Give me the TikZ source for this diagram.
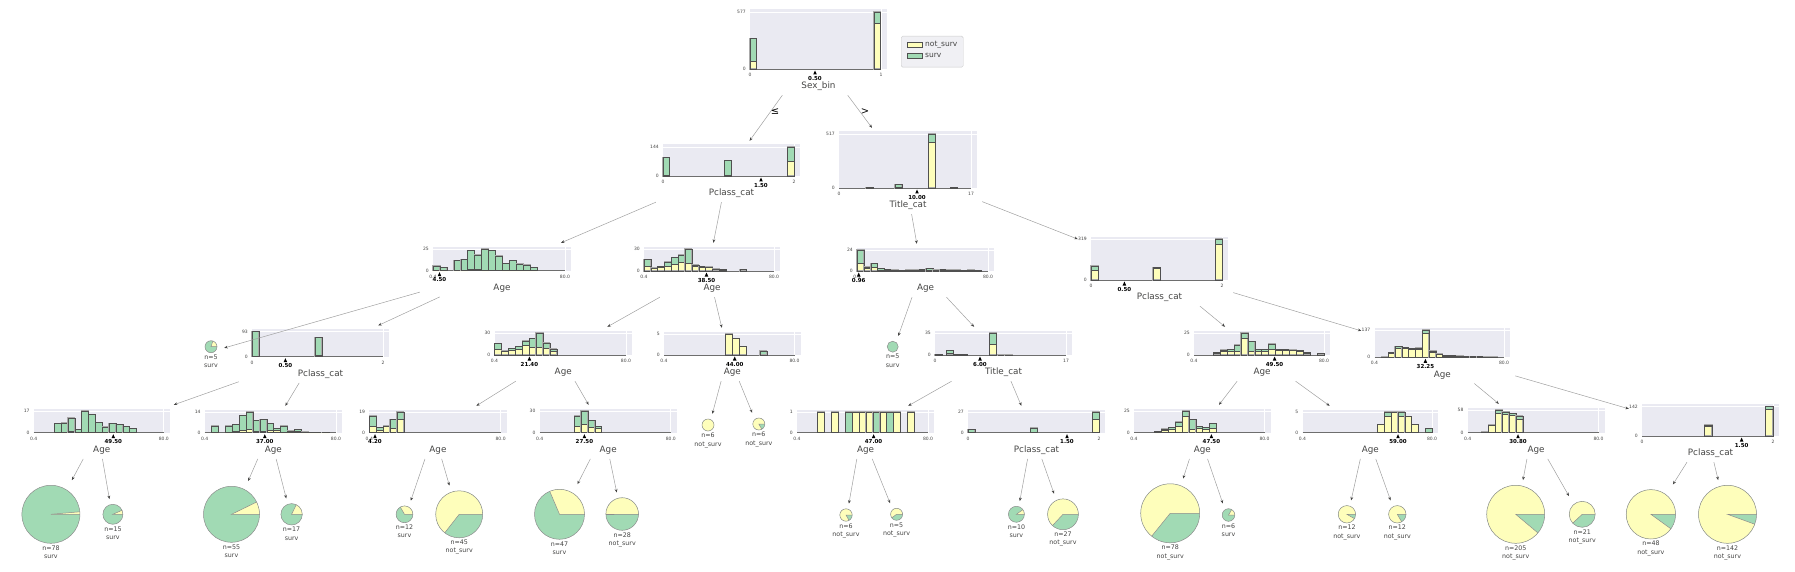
\documentclass[tikz,border=0pt]{standalone}
\usepackage{fontspec}
\setmainfont{DejaVu Sans}
\usetikzlibrary{fit,arrows.meta}
\definecolor{yel}{HTML}{FEFEBB}
\definecolor{grn}{HTML}{A1DAB4}
\definecolor{panelbg}{HTML}{EAEAF2}
\definecolor{txt}{HTML}{444443}
\definecolor{edgec}{HTML}{A0A0A0}
\definecolor{halo}{RGB}{170,170,170}
\definecolor{barc}{RGB}{80,80,80}
\definecolor{piec}{RGB}{140,140,140}
\definecolor{axc}{RGB}{110,110,110}
\definecolor{legbg}{HTML}{F0F0F4}
\definecolor{legbd}{HTML}{CCCCCC}
\tikzset{
  tick/.style={font=\fontsize{4.5}{5}\selectfont, text=txt, inner sep=0pt},
  splitlab/.style={font=\fontsize{5.5}{6}\selectfont\bfseries, text=black, inner sep=0pt},
  feat/.style={font=\fontsize{8.8}{10}\selectfont, text=txt, inner sep=0pt},
  leaflab/.style={font=\fontsize{6.3}{8.4}\selectfont, text=txt, inner sep=0pt, align=center},
  bbox/.style={inner sep=0pt, draw=none},
  edge/.style={draw=edgec, line width=0.5pt, -{Stealth[length=3.5pt,width=2.8pt,color=txt]}},
  barhalo/.style={draw=halo, line width=1.2pt},
  barln/.style={draw=barc, line width=0.45pt},
  pieln/.style={draw=piec, line width=0.5pt},
  axisln/.style={draw=axc, line width=0.6pt},
  elab/.style={font=\fontsize{10}{12}\selectfont, text=black, inner sep=0pt},
  legtext/.style={font=\fontsize{7.5}{9}\selectfont, text=txt, inner sep=0pt, anchor=west},
}
% #1 xl #2 xr #3 ytop #4 ybot #5 ymax #6 xmin #7 xmax #8 splitx #9 splitlabel
\newcommand\hpanel[9]{%
  \fill[panelbg] (#1,#3-2.5) rectangle (#2+6,#4);
  \draw[white,line width=0.7pt] (#1,#3) -- (#2+6,#3);
  \draw[white,line width=0.7pt] (#2,#3-2.5) -- (#2,#4);
  \draw[axisln] (#1,#4) -- (#2,#4);
  \node[tick,anchor=east] at (#1-4,#3) {#5};
  \node[tick,anchor=east] at (#1-4,#4) {0};
  \node[tick,anchor=north] at (#1,#4+4) {#6};
  \node[tick,anchor=north] at (#2,#4+4) {#7};
  \fill[black] (#8,#4+1.5) -- (#8-1.8,#4+5.5) -- (#8+1.8,#4+5.5) -- cycle;
  \node[splitlab,anchor=north] at (#8,#4+7) {#9};
}
% #1 xstart #2 binw #3 ybot #4 height #5 list k/yellowfrac/totalfrac
\newcommand\hbars[5]{%
  \foreach \k/\yf/\tf in {#5}{%
    \pgfmathsetmacro\xa{#1+\k*#2}%
    \pgfmathsetmacro\xb{#1+\k*#2+#2}%
    \pgfmathsetmacro\yt{#3-\tf*#4}%
    \pgfmathsetmacro\yy{#3-\yf*#4}%
    \fill[grn] (\xa,#3) rectangle (\xb,\yt);
    \fill[yel] (\xa,#3) rectangle (\xb,\yy);
    \draw[barhalo] (\xa,#3) rectangle (\xb,\yt);
    \draw[barln] (\xa,#3) rectangle (\xb,\yt);
    \draw[barln] (\xa,\yy) -- (\xb,\yy);
  }%
}
% #1 name #2 xl #3 xr #4 ytop #5 ybot #6 text
\newcommand\featlab[6]{%
  \node[feat] (#1-l) at ({(#2+#3+6)/2},#5+17.5) {#6};
  \node[bbox,fit={(#2-13,#4-6) (#3+11,#5+26)}] (#1) {};
}
% #1 name #2 cx #3 cy #4 r #5 yellow degrees #6 line1 #7 line2
\newcommand\leafpie[7]{%
  \fill[grn] (#2,#3) circle[radius=#4pt];
  \ifdim #5pt>0pt
    \fill[yel] (#2,#3) -- ++(0:#4pt) arc[start angle=0,end angle=#5,radius=#4pt] -- cycle;
  \fi
  \draw[pieln] (#2,#3) circle[radius=#4pt];
  \ifdim #5pt>0pt \ifdim #5pt<360pt
    \draw[pieln] (#2,#3) ++(0:#4pt) -- (#2,#3) -- ++(#5:#4pt);
  \fi\fi
  \node[leaflab,anchor=north] (#1-t) at (#2,#3+#4+2) {#6\\#7};
  \node[bbox,fit={({#2-max(#4,8)-5},{#3-#4-5}) ({#2+max(#4,8)+5},{#3+#4+15})}] (#1) {};
}
\begin{document}
\begin{tikzpicture}[x=1pt,y=-1pt]
\useasboundingbox (0,0) rectangle (1795,572);

% ---------- root ----------
\hpanel{750}{881}{12}{69}{577}{0}{1}{815}{0.50}
\hbars{750}{6.7}{69}{57}{0/0.14/0.54, 18.5/0.81/1}
\featlab{root}{750}{881}{12}{69}{Sex\_bin}
% legend
\node[draw=legbd, fill=legbg, rounded corners=1.5pt, minimum width=62pt, minimum height=31pt, inner sep=0pt, anchor=north west] (legend) at (901,36) {};
\filldraw[fill=yel, draw=barc, line width=0.4pt] (907,42) rectangle (922,47);
\filldraw[fill=grn, draw=barc, line width=0.4pt] (907,53) rectangle (922,58);
\node[legtext] (leg1) at (925,44.5) {not\_surv};
\node[legtext] (leg2) at (925,55.5) {surv};

% ---------- level 2 ----------
\hpanel{663}{794}{147}{176}{144}{0}{2}{761}{1.50}
\hbars{663}{6.7}{176}{29}{0/0.02/0.65, 9.2/0.04/0.53, 18.6/0.5/1}
\featlab{l2l}{663}{794}{147}{176}{Pclass\_cat}

\hpanel{839}{971}{134}{188}{517}{0}{17}{917}{10.00}
\hbars{839}{6.9}{188}{54}{3.9/0/0.01, 8.1/0.01/0.07, 13/0.84/1, 16.1/0.005/0.015}
\featlab{l2r}{839}{971}{134}{188}{Title\_cat}

% ---------- level 3 ----------
\hpanel{433}{565}{249}{270.7}{25}{0.4}{80.0}{439.5}{4.50}
\hbars{433}{6.94}{270.7}{21.7}{0/0/0.22, 1/0/0.16, 3/0/0.47, 4/0/0.53, 5/0.06/0.94, 6/0.06/0.73, 7/0/1, 8/0.03/0.94, 9/0.03/0.69, 10/0/0.34, 11/0/0.47, 12/0/0.31, 13/0/0.27, 14/0/0.14}
\featlab{na}{433}{565}{249}{270.7}{Age}

\hpanel{644}{774}{249}{271}{30}{0.4}{80.0}{706.5}{38.50}
\hbars{644}{6.84}{271}{22}{0/0.23/0.53, 1/0.11/0.14, 2/0.19/0.22, 3/0.22/0.42, 4/0.30/0.61, 5/0.42/0.73, 6/0.34/1, 7/0.22/0.27, 8/0.19/0.22, 9/0.16/0.19, 10/0.08/0.09, 11/0.05/0.06, 14/0/0.06}
\featlab{nb}{644}{774}{249}{271}{Age}

\hpanel{857}{988}{250}{271}{24}{0.4}{80.0}{858.7}{0.96}
\hbars{857}{6.9}{271}{21}{0/0.39/1, 1/0.11/0.19, 2/0.16/0.35, 3/0.06/0.11, 4/0.05/0.08, 5/0.03/0.05, 6/0.02/0.03, 7/0/0.06, 8/0.02/0.06, 9/0.03/0.08, 10/0.03/0.11, 11/0.02/0.06, 12/0.03/0.09, 13/0.02/0.06, 14/0.02/0.05, 15/0/0.03, 16/0.02/0.06, 17/0/0.03}
\featlab{nc}{857}{988}{250}{271}{Age}

\hpanel{1091}{1222}{239}{280}{319}{0}{2}{1124.4}{0.50}
\hbars{1091}{7.3}{280}{41}{0/0.23/0.34, 8.5/0.28/0.30, 17/0.88/1}
\featlab{nd}{1091}{1222}{239}{280}{Pclass\_cat}

% ---------- level 4 ----------
\leafpie{la}{211}{346.7}{6}{72}{n=5}{surv}

\hpanel{252}{383}{331.7}{356.7}{93}{0}{2}{285.4}{0.50}
\hbars{252}{7}{356.7}{25}{0/0.02/1, 9/0.06/0.78}
\featlab{na2}{252}{383}{331.7}{356.7}{Pclass\_cat}

\hpanel{494.5}{626}{333}{355}{30}{0.4}{80.0}{529.4}{21.40}
\hbars{494.5}{6.92}{355}{22}{0/0.25/0.52, 1/0.15/0.19, 2/0.22/0.30, 3/0.25/0.40, 4/0.45/0.64, 5/0.34/0.75, 6/0.34/1, 7/0.30/0.55, 8/0.15/0.27}
\featlab{nb1}{494.5}{626}{333}{355}{Age}

\hpanel{664}{794.5}{334}{355}{5}{0.4}{80.0}{734.7}{44.00}
\hbars{664}{6.9}{355}{21}{8.93/1/1, 9.94/0.8/0.8, 10.94/0.4/0.4, 13.9/0/0.2}
\featlab{nb2}{664}{794.5}{334}{355}{Age}

\leafpie{lc}{892.7}{346.7}{5.5}{0}{n=5}{surv}

\hpanel{935}{1066}{333}{355}{35}{0}{17}{980}{6.00}
\hbars{935}{7}{355}{22}{0/0.005/0.03, 1.65/0.1/0.2, 2.65/0.01/0.03, 3.65/0/0.02, 7.8/0.49/1, 9/0/0.01, 10/0/0.01}
\featlab{nc2}{935}{1066}{333}{355}{Title\_cat}

\hpanel{1194}{1324}{333}{355}{25}{0.4}{80.0}{1274.6}{49.50}
\hbars{1194}{6.9}{355}{22}{2.81/0.08/0.11, 3.81/0.15/0.23, 4.81/0.15/0.26, 5.81/0.18/0.46, 6.81/0.77/1, 7.81/0.18/0.62, 8.81/0.15/0.26, 9.81/0.18/0.26, 10.81/0.28/0.51, 11.81/0.2/0.26, 12.81/0.2/0.26, 13.81/0.2/0.23, 14.81/0.15/0.2, 15.81/0.08/0.12, 17.9/0/0.08}
\featlab{nd1}{1194}{1324}{333}{355}{Age}

\hpanel{1374.5}{1504}{330}{357.3}{137}{0.4}{80.0}{1425.4}{32.25}
\hbars{1374.5}{6.82}{357.3}{27.3}{1/0/0.02, 2/0.15/0.17, 3/0.35/0.41, 4/0.33/0.37, 5/0.29/0.33, 6/0.30/0.35, 7/0.88/1, 8/0.2/0.24, 9/0.1/0.13, 10/0.05/0.08, 11/0.04/0.06, 12/0.03/0.05, 13/0.02/0.04, 14/0.02/0.03, 15/0.01/0.03, 16/0.01/0.02, 17/0.01/0.02}
\featlab{nd2}{1374.5}{1504}{330}{357.3}{Age}

% ---------- level 5 ----------
\hpanel{33.7}{163.8}{411}{432.7}{17}{0.4}{80.0}{113.3}{49.50}
\hbars{33.7}{6.85}{432.7}{21.7}{3/0/0.42, 4/0/0.45, 5/0.08/0.69, 6/0/0.16, 7/0/1, 8/0/0.85, 9/0/0.48, 10/0/0.26, 11/0/0.42, 12/0/0.37, 13/0/0.29, 14/0/0.19}
\featlab{n5a}{33.7}{163.8}{411}{432.7}{Age}

\hpanel{204.7}{336}{412}{432.7}{14}{0.4}{80.0}{264.8}{37.00}
\hbars{204.7}{6.9}{432.7}{20.7}{1/0/0.32, 3/0/0.32, 4/0.05/0.39, 5/0.13/0.85, 6/0.16/1, 7/0.08/0.58, 8/0.08/0.65, 9/0.13/0.45, 10/0.13/0.21, 11/0/0.32, 12/0/0.08, 13/0.05/0.16, 14/0/0.03, 15/0/0.02, 16/0/0.02, 17/0/0.02}
\featlab{n5b}{204.7}{336}{412}{432.7}{Age}

\hpanel{369.3}{500.6}{412}{432.7}{19}{0.4}{80.0}{375}{4.20}
\hbars{369.3}{6.9}{432.7}{20.7}{0/0.32/0.81, 1/0.13/0.26, 2/0.29/0.32, 3/0.24/0.65, 4/0.66/1}
\featlab{n5c}{369.3}{500.6}{412}{432.7}{Age}

\hpanel{539.6}{670.8}{411}{432.7}{30}{0.4}{80.0}{584.4}{27.50}
\hbars{539.6}{6.9}{432.7}{21.7}{5/0.32/0.77, 6/0.37/1, 7/0.26/0.56, 8/0.21/0.29}
\featlab{n5d}{539.6}{670.8}{411}{432.7}{Age}

\leafpie{le1}{708}{425}{6}{360}{n=6}{not\_surv}
\leafpie{le2}{758.8}{424}{6}{300}{n=6}{not\_surv}

\hpanel{797}{928}{412}{432.7}{1}{0.4}{80.0}{873.6}{47.00}
\hbars{797}{6.9}{432.7}{20.7}{3/1/1, 5/1/1, 7/0/1, 8/1/1, 9/1/1, 10/1/1, 11/0/1, 12/1/1, 13/0/1, 14/1/1, 16/1/1}
\featlab{n5f}{797}{928}{412}{432.7}{Age}

\hpanel{968}{1099}{412}{432.7}{27}{0}{2}{1067}{1.50}
\hbars{968}{6.9}{432.7}{20.7}{0/0.01/0.15, 9.06/0.01/0.24, 18/0.63/1}
\featlab{n5g}{968}{1099}{412}{432.7}{Pclass\_cat}

\hpanel{1134}{1264.5}{411}{432.7}{25}{0.4}{80.0}{1211.4}{47.50}
\hbars{1134}{6.87}{432.7}{21.7}{3/0/0.05, 4/0.13/0.17, 5/0.16/0.25, 6/0.28/0.5, 7/0.77/1, 8/0.17/0.61, 9/0.2/0.3, 10/0.17/0.25, 11/0.2/0.44}
\featlab{n5h}{1134}{1264.5}{411}{432.7}{Age}

\hpanel{1302.5}{1432}{412}{432.7}{5}{0.4}{80.0}{1398}{59.00}
\hbars{1302.5}{6.82}{432.7}{20.7}{11/0.4/0.4, 12/0.8/1, 13/1/1, 14/0.8/1, 15/0.8/0.8, 16/0.4/0.4, 18/0/0.2}
\featlab{n5i}{1302.5}{1432}{412}{432.7}{Age}

\hpanel{1467.6}{1598.5}{410}{432.7}{58}{0.4}{80.0}{1518}{30.80}
\hbars{1467.6}{6.89}{432.7}{22.7}{2/0.04/0.04, 3/0.32/0.34, 4/0.88/1, 5/0.82/0.91, 6/0.78/0.85, 7/0.59/0.74}
\featlab{n5j}{1467.6}{1598.5}{410}{432.7}{Age}

\hpanel{1642}{1773}{406.5}{436}{142}{0}{2}{1741.6}{1.50}
\hbars{1642}{7.6}{436}{29.5}{8.22/0.34/0.38, 16.24/0.91/1}
\featlab{n5k}{1642}{1773}{406.5}{436}{Pclass\_cat}

% ---------- leaves ----------
\leafpie{l1}{50.9}{514.3}{29}{5}{n=78}{surv}
\leafpie{l2}{112.9}{514.3}{10}{24}{n=15}{surv}
\leafpie{l3}{231.5}{514.3}{28}{26}{n=55}{surv}
\leafpie{l4}{291.6}{514.3}{10.7}{64}{n=17}{surv}
\leafpie{l5}{404.5}{514.3}{8.4}{120}{n=12}{surv}
\leafpie{l6}{459.2}{514.3}{23.5}{232}{n=45}{not\_surv}
\leafpie{l7}{559.5}{514.3}{25}{113}{n=47}{surv}
\leafpie{l8}{622.2}{514}{16.3}{180}{n=28}{not\_surv}
\leafpie{l9}{846}{515}{6.2}{300}{n=6}{not\_surv}
\leafpie{l10}{896.6}{514.3}{6}{216}{n=5}{not\_surv}
\leafpie{l11}{1016.4}{514.3}{8}{36}{n=10}{surv}
\leafpie{l12}{1063}{514.3}{15.4}{227}{n=27}{not\_surv}
\leafpie{l13}{1170.2}{513.3}{29.5}{231}{n=78}{not\_surv}
\leafpie{l14}{1228.5}{515}{6.3}{60}{n=6}{surv}
\leafpie{l15}{1346.9}{514.3}{8.7}{330}{n=12}{not\_surv}
\leafpie{l16}{1397.3}{514.3}{8.7}{300}{n=12}{not\_surv}
\leafpie{l17}{1515.7}{514.3}{29}{320}{n=205}{not\_surv}
\leafpie{l18}{1582.2}{514.3}{13}{223}{n=21}{not\_surv}
\leafpie{l19}{1650.9}{514.3}{24.7}{324}{n=48}{not\_surv}
\leafpie{l20}{1727.5}{514.3}{29}{340}{n=142}{not\_surv}

% ---------- edges ----------
\draw[edge] (root) -- (l2l);
\draw[edge] (root) -- (l2r);
\node[elab] (le) at (775,112) {≤};
\node[elab] (gt) at (865,112) {>};
\draw[edge] (l2l) -- (na);
\draw[edge] (l2l) -- (nb);
\draw[edge] (l2r) -- (nc);
\draw[edge] (l2r) -- (nd);
\draw[edge] (na) -- (la);
\draw[edge] (na) -- (na2);
\draw[edge] (nb) -- (nb1);
\draw[edge] (nb) -- (nb2);
\draw[edge] (nc) -- (lc);
\draw[edge] (nc) -- (nc2);
\draw[edge] (nd) -- (nd1);
\draw[edge] (nd) -- (nd2);
\draw[edge] (na2) -- (n5a);
\draw[edge] (na2) -- (n5b);
\draw[edge] (nb1) -- (n5c);
\draw[edge] (nb1) -- (n5d);
\draw[edge] (nb2) -- (le1);
\draw[edge] (nb2) -- (le2);
\draw[edge] (nc2) -- (n5f);
\draw[edge] (nc2) -- (n5g);
\draw[edge] (nd1) -- (n5h);
\draw[edge] (nd1) -- (n5i);
\draw[edge] (nd2) -- (n5j);
\draw[edge] (nd2) -- (n5k);
\draw[edge] (n5a) -- (l1);
\draw[edge] (n5a) -- (l2);
\draw[edge] (n5b) -- (l3);
\draw[edge] (n5b) -- (l4);
\draw[edge] (n5c) -- (l5);
\draw[edge] (n5c) -- (l6);
\draw[edge] (n5d) -- (l7);
\draw[edge] (n5d) -- (l8);
\draw[edge] (n5f) -- (l9);
\draw[edge] (n5f) -- (l10);
\draw[edge] (n5g) -- (l11);
\draw[edge] (n5g) -- (l12);
\draw[edge] (n5h) -- (l13);
\draw[edge] (n5h) -- (l14);
\draw[edge] (n5i) -- (l15);
\draw[edge] (n5i) -- (l16);
\draw[edge] (n5j) -- (l17);
\draw[edge] (n5j) -- (l18);
\draw[edge] (n5k) -- (l19);
\draw[edge] (n5k) -- (l20);
\end{tikzpicture}
\end{document}
